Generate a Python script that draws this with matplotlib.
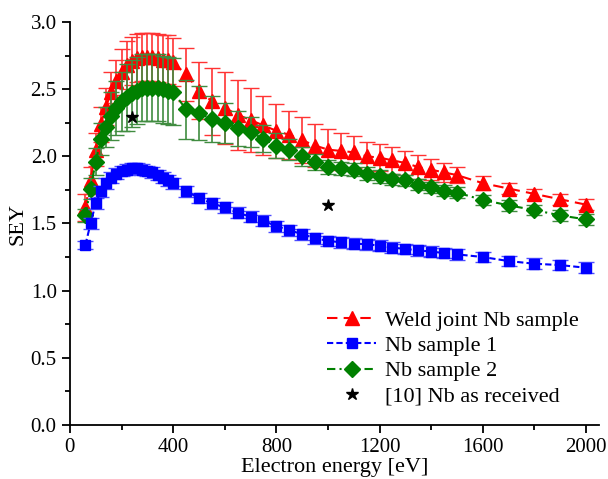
import numpy as np
import matplotlib.pyplot as plt

plt.rcParams['font.family'] = ['Liberation Serif', 'DejaVu Serif']

# energies (eV)
energy = [60, 80, 100, 120, 140, 160, 180, 200, 220, 240, 260, 280, 300, 320, 340, 360, 380, 400,
          450, 500, 550, 600, 650, 700, 750, 800, 850, 900, 950, 1000, 1050, 1100, 1150, 1200,
          1250, 1300, 1350, 1400, 1450, 1500, 1600, 1700, 1800, 1900, 2000]

# weld joint Nb sample
weld = [1.62, 1.82, 2.05, 2.24, 2.37, 2.48, 2.56, 2.63, 2.68, 2.71, 2.73, 2.74, 2.74, 2.74, 2.73, 2.72, 2.72, 2.70,
        2.61, 2.49, 2.41, 2.36, 2.31, 2.27, 2.23, 2.19, 2.16, 2.12, 2.08, 2.05, 2.04, 2.03, 2.00, 1.99,
        1.97, 1.95, 1.92, 1.90, 1.88, 1.86, 1.80, 1.76, 1.72, 1.68, 1.64]
weld_err = [0.10, 0.10, 0.12, 0.13, 0.14, 0.15, 0.16, 0.17, 0.18, 0.18, 0.18, 0.18, 0.18, 0.18, 0.18, 0.18, 0.18, 0.18,
            0.20, 0.21, 0.25, 0.27, 0.26, 0.24, 0.22, 0.20, 0.18, 0.17, 0.16, 0.15, 0.13, 0.12, 0.11, 0.10,
            0.10, 0.09, 0.09, 0.08, 0.07, 0.06, 0.05, 0.04, 0.04, 0.04, 0.04]

# Nb sample 1
nb1 = [1.34, 1.50, 1.65, 1.74, 1.80, 1.84, 1.87, 1.89, 1.90, 1.91, 1.91, 1.90, 1.89, 1.88, 1.86, 1.84, 1.82, 1.80,
       1.74, 1.69, 1.65, 1.62, 1.58, 1.55, 1.52, 1.48, 1.45, 1.42, 1.39, 1.37, 1.36, 1.35, 1.345, 1.335,
       1.32, 1.31, 1.30, 1.29, 1.28, 1.27, 1.25, 1.22, 1.20, 1.19, 1.17]
nb1_err = [0.03] + [0.04] * 44

# Nb sample 2
nb2 = [1.56, 1.76, 1.96, 2.13, 2.22, 2.30, 2.36, 2.41, 2.44, 2.47, 2.49, 2.51, 2.51, 2.51, 2.51, 2.50, 2.49, 2.48,
       2.35, 2.32, 2.28, 2.25, 2.21, 2.18, 2.13, 2.08, 2.05, 2.00, 1.96, 1.92, 1.91, 1.90, 1.87, 1.85,
       1.83, 1.82, 1.79, 1.77, 1.745, 1.73, 1.675, 1.635, 1.60, 1.56, 1.53]
nb2_err = [0.05, 0.08, 0.10, 0.12, 0.15, 0.18, 0.20, 0.22, 0.25, 0.25, 0.25, 0.25, 0.25, 0.25, 0.25, 0.25, 0.25, 0.25,
           0.22, 0.20, 0.17, 0.15, 0.13, 0.11, 0.10, 0.09, 0.08, 0.07, 0.06, 0.05, 0.05, 0.05, 0.05, 0.05,
           0.04, 0.04, 0.04, 0.04, 0.04, 0.04, 0.04, 0.04, 0.04, 0.04, 0.04]

# [10] Nb as received
ref_energy = [240, 1000]
ref_sey = [2.29, 1.64]

fig = plt.figure(figsize=(6.08, 4.79), dpi=100)
ax = fig.add_axes([0.115, 0.113, 0.87, 0.841])

e_weld = ax.errorbar(energy, weld, yerr=weld_err, color='red', ls=(0, (5, 3)), lw=1.5,
                     marker='^', ms=10, capsize=6, elinewidth=1.2, ecolor=(1, 0.2, 0.2), zorder=2)
e_nb2 = ax.errorbar(energy, nb2, yerr=nb2_err, color='green', ls=(0, (4, 2, 1, 2)), lw=1.5,
                    marker='D', ms=8, capsize=6, elinewidth=1.2, ecolor=(0.25, 0.55, 0.25), zorder=3)
e_nb1 = ax.errorbar(energy, nb1, yerr=nb1_err, color='blue', ls=(0, (3, 1.5)), lw=1.5,
                    marker='s', ms=7, capsize=6, elinewidth=1.2, ecolor=(0.3, 0.3, 1), zorder=4)
star, = ax.plot(ref_energy, ref_sey, ls='none', marker='*', ms=9, color='black', zorder=5)

ax.set_xlim(0, 2050)
ax.set_ylim(0, 3.0)
ax.set_xticks([0, 400, 800, 1200, 1600, 2000])
ax.set_xticks(np.arange(200, 2001, 400), minor=True)
ax.set_yticks(np.arange(0, 3.01, 0.5))
ax.set_yticks(np.arange(0.25, 3.0, 0.5), minor=True)
ax.yaxis.set_major_formatter(plt.FormatStrFormatter('%.1f'))
ax.spines['top'].set_visible(False)
ax.spines['right'].set_visible(False)
ax.spines['left'].set_linewidth(1.3)
ax.spines['bottom'].set_linewidth(1.3)
ax.tick_params(which='major', direction='out', length=6, width=1.3, labelsize=15)
ax.tick_params(which='minor', direction='out', length=3.5, width=1.3)

ax.set_xlabel('Electron energy [eV]', fontsize=16, labelpad=1)
ax.set_ylabel('SEY', fontsize=16, labelpad=2)

handles = [e_weld.lines[0], e_nb1.lines[0], e_nb2.lines[0], star]
labels = ['Weld joint Nb sample', 'Nb sample 1', 'Nb sample 2', '[10] Nb as received']
ax.legend(handles, labels, loc='lower right', bbox_to_anchor=(1.0, -0.005), frameon=False,
          fontsize=16, handlelength=2.2, labelspacing=0.22, handletextpad=0.4)

fig.savefig('out.png', dpi=100)
